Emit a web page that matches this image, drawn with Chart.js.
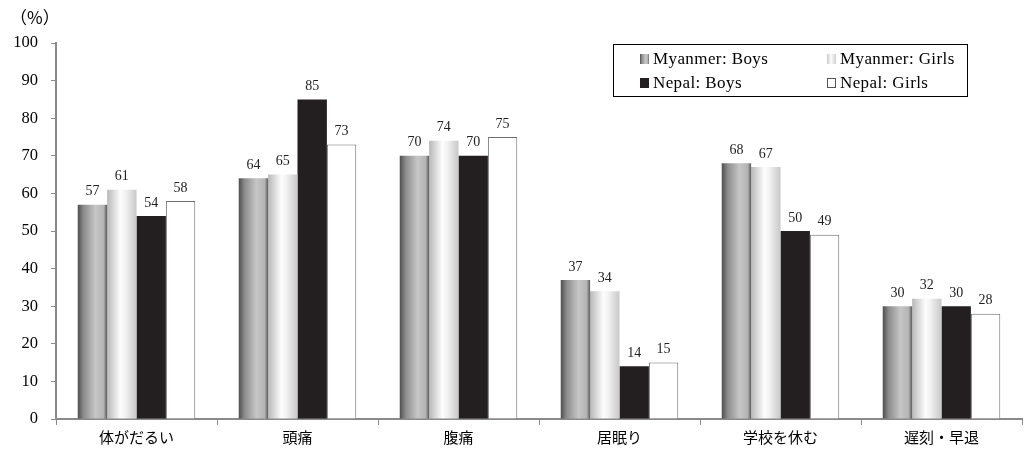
<!DOCTYPE html>
<html>
<head>
<meta charset="utf-8">
<script src="https://cdn.jsdelivr.net/npm/chart.js@4/dist/chart.umd.min.js"></script>
<style>
  html, body { margin: 0; padding: 0; background: #fff; }
  #wrap { position: relative; width: 1026px; height: 453px; }
  #unit { position: absolute; left: 10px; top: 4px; font: 17px "Noto Sans CJK JP", sans-serif; color: #000; }
  #legend { position: absolute; left: 613px; top: 44px; width: 355px; height: 53px; border: 1px solid #000;
            box-sizing: border-box; font: 17px "Liberation Serif", serif; letter-spacing: 0.4px; color: #000; }
  .item { position: absolute; display: flex; align-items: center; height: 20px; }
  .sw { width: 9px; height: 10px; margin-right: 4px; box-sizing: border-box; }
</style>
</head>
<body>
<div id="wrap">
  <canvas id="c" width="1026" height="453"></canvas>
  <div id="unit">（%）</div>
  <div id="legend"></div>
</div>
<script>
// survey: symptoms by country and sex (%)
const categories = ['体がだるい', '頭痛', '腹痛', '居眠り', '学校を休む', '遅刻・早退'];
const seriesNames = ['Myanmer: Boys', 'Myanmer: Girls', 'Nepal: Boys', 'Nepal: Girls'];
const myanmarBoys = [57, 64, 70, 37, 68, 30];
const myanmarGirls = [61, 65, 74, 34, 67, 32];
const nepalBoys = [54, 85, 70, 14, 50, 30];
const nepalGirls = [58, 73, 75, 15, 49, 28];
const yTicks = [0, 10, 20, 30, 40, 50, 60, 70, 80, 90, 100];

const serif = '"Liberation Serif", "Times New Roman", serif';
const axisGray = '#8a8a8a';

// horizontal gradient stops for the two Myanmar series
const gradStops = [
  [[0, '#4e4e4e'], [0.2, '#8c8c8c'], [0.6, '#c6c6c6'], [0.88, '#b4b4b4'], [1, '#5a5a5a']],
  [[0, '#b8b8b8'], [0.45, '#fdfdfd'], [0.6, '#f4f4f4'], [1, '#c8c8c8']]
];

const gradientBars = {
  id: 'gradientBars',
  beforeDatasetsDraw(chart) {
    const g = chart.ctx;
    [0, 1].forEach(di => {
      chart.getDatasetMeta(di).data.forEach(el => {
        const x0 = el.x - el.width / 2, x1 = el.x + el.width / 2;
        const grad = g.createLinearGradient(x0, 0, x1, 0);
        gradStops[di].forEach(s => grad.addColorStop(s[0], s[1]));
        // options may be shared between bars, so give each bar its own copy
        el.options = Object.assign({}, el.options, { backgroundColor: grad });
      });
    });
  }
};

const valueLabels = {
  id: 'valueLabels',
  afterDatasetsDraw(chart) {
    const g = chart.ctx;
    g.save();
    g.font = '14px ' + serif;
    g.fillStyle = '#222';
    g.textAlign = 'center';
    g.textBaseline = 'bottom';
    chart.data.datasets.forEach((ds, di) => {
      chart.getDatasetMeta(di).data.forEach((el, i) => {
        g.fillText(String(ds.data[i]), el.x, el.y - 6);
      });
    });
    g.restore();
  }
};

new Chart(document.getElementById('c'), {
  type: 'bar',
  data: {
    labels: categories,
    datasets: [
      { label: seriesNames[0], data: myanmarBoys, backgroundColor: '#999', borderWidth: 0 },
      { label: seriesNames[1], data: myanmarGirls, backgroundColor: '#eee', borderWidth: 0 },
      { label: seriesNames[2], data: nepalBoys, backgroundColor: '#231f20', borderWidth: 0 },
      { label: seriesNames[3], data: nepalGirls, backgroundColor: '#ffffff', borderColor: '#6e6e6e', borderWidth: 1 }
    ]
  },
  options: {
    responsive: false,
    animation: false,
    layout: { padding: { top: 43, right: 4, left: 0, bottom: 0 } },
    datasets: { bar: { barPercentage: 1, categoryPercentage: 0.73 } },
    plugins: { legend: { display: false }, tooltip: { enabled: false } },
    scales: {
      x: {
        offset: true,
        grid: { display: true, offset: true, drawOnChartArea: false, drawTicks: true, tickLength: 6, color: axisGray },
        border: { color: axisGray, width: 2 },
        ticks: { color: '#000', font: { family: '"Noto Sans CJK JP", sans-serif', size: 15 }, padding: 3, maxRotation: 0 },
        afterFit(s) { s.height = 34; }
      },
      y: {
        min: 0, max: 100,
        afterBuildTicks(s) { s.ticks = yTicks.map(v => ({ value: v })); },
        grid: { display: true, drawOnChartArea: false, drawTicks: true, tickLength: 5, color: axisGray },
        border: { color: axisGray, width: 2 },
        ticks: { color: '#000', font: { family: serif, size: 16.5 }, padding: 13 },
        afterFit(s) { s.width = 56; }
      }
    }
  },
  plugins: [gradientBars, valueLabels]
});

// legend box
const legendPos = [[0, 0], [1, 0], [0, 1], [1, 1]];
const swatchCss = [
  'background: linear-gradient(90deg,#4e4e4e,#8c8c8c 20%,#c6c6c6 60%,#b4b4b4 88%,#5a5a5a);',
  'background: linear-gradient(90deg,#c8c8c8,#fdfdfd 45%,#f0f0f0 60%,#d0d0d0);',
  'background: #231f20;',
  'background: #fff; border: 1px solid #555;'
];
const legend = document.getElementById('legend');
seriesNames.forEach((name, i) => {
  const it = document.createElement('div');
  it.className = 'item';
  it.style.left = (legendPos[i][0] ? 213 : 26) + 'px';
  it.style.top = (legendPos[i][1] ? 28 : 4) + 'px';
  it.innerHTML = '<span class="sw" style="' + swatchCss[i] + '"></span><span>' + name + '</span>';
  legend.appendChild(it);
});
</script>
</body>
</html>
